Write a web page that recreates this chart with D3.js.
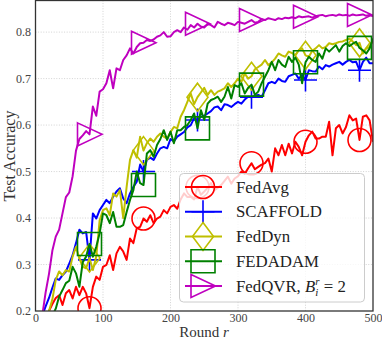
<!DOCTYPE html>
<html>
<head>
<meta charset="utf-8">
<script src="https://cdn.jsdelivr.net/npm/d3@7"></script>
<style>
  body { margin: 0; background: #fff; }
  svg { display: block; font-family: "Liberation Serif", "DejaVu Serif", serif; }
</style>
</head>
<body>
<svg id="chart" width="382" height="339"></svg>
<script>
// rounds are sampled every 5 rounds, 0..500
var rounds = d3.range(0, 505, 5);
var markRounds = [80, 160, 240, 320, 400, 480];

var fedAvg = [
  0.10, 0.13, 0.16, 0.18, 0.20, 0.215, 0.228, 0.234, 0.213, 0.238,
  0.245, 0.227, 0.252, 0.234, 0.252, 0.238, 0.206, 0.252, 0.274, 0.267,
  0.295, 0.299, 0.32, 0.288, 0.324, 0.338, 0.328, 0.31, 0.356, 0.346,
  0.378, 0.381, 0.399, 0.392, 0.406, 0.389, 0.399, 0.403, 0.417, 0.41,
  0.424, 0.428, 0.42, 0.44, 0.453, 0.445, 0.446, 0.44, 0.467, 0.45,
  0.457, 0.465, 0.475, 0.46, 0.465, 0.471, 0.48, 0.489, 0.474, 0.485,
  0.49, 0.5, 0.495, 0.507, 0.518, 0.505, 0.51, 0.515, 0.518, 0.528,
  0.5, 0.55, 0.535, 0.557, 0.535, 0.56, 0.539, 0.564, 0.553, 0.535,
  0.564, 0.578, 0.586, 0.571, 0.571, 0.575, 0.575, 0.607, 0.535, 0.593,
  0.60, 0.582, 0.596, 0.621, 0.61, 0.614, 0.568, 0.618, 0.621, 0.61,
  0.564
];
var scaffold = [
  0.10, 0.14, 0.19, 0.21, 0.228, 0.25, 0.27, 0.267, 0.277, 0.285,
  0.302, 0.32, 0.346, 0.375, 0.367, 0.37, 0.31, 0.41, 0.399, 0.417,
  0.428, 0.439, 0.432, 0.446, 0.457, 0.464, 0.442, 0.432, 0.453, 0.467,
  0.478, 0.515, 0.50, 0.525, 0.53, 0.525, 0.539, 0.55, 0.553, 0.55,
  0.57, 0.565, 0.575, 0.58, 0.585, 0.595, 0.60, 0.615, 0.611, 0.618,
  0.62, 0.625, 0.63, 0.638, 0.64, 0.632, 0.645, 0.643, 0.639, 0.645,
  0.65, 0.646, 0.655, 0.661, 0.66, 0.663, 0.665, 0.661, 0.675, 0.69,
  0.693, 0.69, 0.70, 0.695, 0.693, 0.705, 0.708, 0.711, 0.70, 0.708,
  0.697, 0.718, 0.716, 0.715, 0.726, 0.72, 0.729, 0.726, 0.73, 0.733,
  0.736, 0.73, 0.736, 0.74, 0.735, 0.736, 0.718, 0.736, 0.745, 0.733,
  0.733
];
var fedDyn = [
  0.10, 0.13, 0.16, 0.185, 0.20, 0.225, 0.267, 0.285, 0.277, 0.288,
  0.285, 0.317, 0.338, 0.313, 0.295, 0.292, 0.314, 0.288, 0.317, 0.395,
  0.417, 0.421, 0.406, 0.453, 0.446, 0.46, 0.40, 0.467, 0.525, 0.546,
  0.53, 0.575, 0.545, 0.561, 0.571, 0.564, 0.575, 0.582, 0.575, 0.571,
  0.585, 0.596, 0.593, 0.618, 0.632, 0.65, 0.668, 0.645, 0.66, 0.67,
  0.68, 0.665, 0.675, 0.665, 0.672, 0.675, 0.679, 0.69, 0.682, 0.69,
  0.70, 0.693, 0.711, 0.70, 0.705, 0.72, 0.725, 0.73, 0.74, 0.729,
  0.735, 0.743, 0.754, 0.75, 0.747, 0.758, 0.755, 0.75, 0.761, 0.765,
  0.75, 0.747, 0.76, 0.765, 0.772, 0.765, 0.768, 0.776, 0.774, 0.776,
  0.779, 0.78, 0.783, 0.786, 0.78, 0.772, 0.777, 0.754, 0.765, 0.768,
  0.783
];
var fedAdam = [
  0.10, 0.12, 0.14, 0.16, 0.175, 0.19, 0.205, 0.231, 0.245, 0.26,
  0.265, 0.295, 0.281, 0.252, 0.305, 0.317, 0.344, 0.317, 0.338, 0.367,
  0.41, 0.406, 0.389, 0.413, 0.381, 0.381, 0.385, 0.413, 0.439, 0.46,
  0.50, 0.475, 0.471, 0.539, 0.546, 0.532, 0.557, 0.57, 0.589, 0.568,
  0.586, 0.561, 0.589, 0.589, 0.596, 0.60, 0.611, 0.625, 0.593, 0.632,
  0.611, 0.646, 0.654, 0.657, 0.661, 0.65, 0.661, 0.682, 0.657, 0.686,
  0.682, 0.69, 0.668, 0.68, 0.687, 0.665, 0.672, 0.69, 0.704, 0.718,
  0.736, 0.718, 0.74, 0.73, 0.725, 0.747, 0.736, 0.745, 0.73, 0.69,
  0.735, 0.747, 0.74, 0.736, 0.754, 0.743, 0.765, 0.758, 0.765, 0.772,
  0.758, 0.77, 0.776, 0.77, 0.775, 0.779, 0.766, 0.761, 0.754, 0.765,
  0.786
];
var fedQvr = [
  0.10, 0.14, 0.19, 0.24, 0.28, 0.33, 0.36, 0.375, 0.41, 0.445,
  0.455, 0.49, 0.545, 0.57, 0.578, 0.587, 0.58, 0.64, 0.62, 0.672,
  0.677, 0.69, 0.718, 0.679, 0.722, 0.718, 0.74, 0.75, 0.765, 0.754,
  0.768, 0.776, 0.777, 0.783, 0.781, 0.784, 0.79, 0.793, 0.80, 0.79,
  0.791, 0.80, 0.804, 0.80, 0.81, 0.805, 0.815, 0.81, 0.818, 0.812,
  0.81, 0.818, 0.815, 0.81, 0.822, 0.818, 0.815, 0.82, 0.818, 0.815,
  0.822, 0.82, 0.818, 0.822, 0.826, 0.82, 0.822, 0.828, 0.826, 0.83,
  0.828, 0.826, 0.83, 0.828, 0.831, 0.83, 0.832, 0.83, 0.834, 0.832,
  0.833, 0.834, 0.831, 0.834, 0.836, 0.837, 0.834, 0.836, 0.837, 0.835,
  0.838, 0.836, 0.837, 0.835, 0.838, 0.836, 0.837, 0.838, 0.835, 0.837,
  0.834
];

var xTicks = [0, 100, 200, 300, 400, 500];
var yTicks = [0.2, 0.3, 0.4, 0.5, 0.6, 0.7, 0.8];

var series = [
  {name: 'FedAvg', values: fedAvg, color: '#ff0000', marker: 'circle'},
  {name: 'SCAFFOLD', values: scaffold, color: '#0000ff', marker: 'plus'},
  {name: 'FedDyn', values: fedDyn, color: '#bfbf00', marker: 'diamond'},
  {name: 'FEDADAM', values: fedAdam, color: '#008000', marker: 'square'},
  {name: 'FedQVR', values: fedQvr, color: '#bf00bf', marker: 'triangle'}
];

var plotL = 35.5, plotR = 373, plotT = 0.5, plotB = 311;

var svg = d3.select('#chart');
var x = d3.scaleLinear().domain([0, 500]).range([plotL, plotR]);
var y = d3.scaleLinear().domain([0.2, 0.868]).range([plotB, plotT]);

svg.append('defs').append('clipPath').attr('id', 'plot-clip')
  .append('rect')
  .attr('x', plotL).attr('y', plotT)
  .attr('width', plotR - plotL).attr('height', plotB - plotT);

// grid
var grid = svg.append('g').attr('class', 'grid');
grid.selectAll('line.gx').data(xTicks.slice(1, -1)).enter().append('line')
  .attr('x1', function(d) { return x(d); })
  .attr('x2', function(d) { return x(d); })
  .attr('y1', plotT).attr('y2', plotB);
grid.selectAll('line.gy').data(yTicks.slice(1)).enter().append('line')
  .attr('x1', plotL).attr('x2', plotR)
  .attr('y1', function(d) { return y(d); })
  .attr('y2', function(d) { return y(d); });
grid.selectAll('line')
  .attr('stroke', '#c8c8c8')
  .attr('stroke-width', 0.8)
  .attr('stroke-dasharray', '1,1.6');

// marker shapes, size is in px
function markerPath(kind) {
  var p = d3.path();
  if (kind === 'circle') {
    p.moveTo(11.5, 0);
    p.arc(0, 0, 11.5, 0, 2 * Math.PI);
  } else if (kind === 'plus') {
    p.moveTo(-11.5, 0); p.lineTo(11.5, 0);
    p.moveTo(0, -11.5); p.lineTo(0, 11.5);
  } else if (kind === 'diamond') {
    p.moveTo(0, -14); p.lineTo(10.5, 0); p.lineTo(0, 14); p.lineTo(-10.5, 0); p.closePath();
  } else if (kind === 'square') {
    p.rect(-12, -11.5, 24, 23);
  } else if (kind === 'triangle') {
    p.moveTo(-12, -11.5); p.lineTo(12.5, 0); p.lineTo(-12, 11.5); p.closePath();
  }
  return p.toString();
}

var line = d3.line()
  .x(function(d, i) { return x(rounds[i]); })
  .y(function(d) { return y(d); });

var plot = svg.append('g').attr('clip-path', 'url(#plot-clip)');

series.forEach(function(s) {
  var g = plot.append('g').attr('class', 'series');
  g.append('path')
    .attr('d', line(s.values))
    .attr('fill', 'none')
    .attr('stroke', s.color)
    .attr('stroke-width', 2)
    .attr('stroke-linejoin', 'round');
  g.selectAll('path.mark')
    .data(markRounds)
    .enter().append('path')
    .attr('class', 'mark')
    .attr('d', markerPath(s.marker))
    .attr('transform', function(r) {
      return 'translate(' + x(r) + ',' + y(s.values[rounds.indexOf(r)]) + ')';
    })
    .attr('fill', 'none')
    .attr('stroke', s.color)
    .attr('stroke-width', 1.6);
});

// frame
svg.append('rect')
  .attr('x', plotL).attr('y', plotT)
  .attr('width', plotR - plotL).attr('height', plotB - plotT)
  .attr('fill', 'none')
  .attr('stroke', '#333')
  .attr('stroke-width', 1.3);

// axes (labels only)
var xAxis = svg.append('g')
  .attr('transform', 'translate(0,' + plotB + ')')
  .call(d3.axisBottom(x).tickValues(xTicks).tickSize(0).tickPadding(2));
var yAxis = svg.append('g')
  .attr('transform', 'translate(' + plotL + ',0)')
  .call(d3.axisLeft(y).tickValues(yTicks).tickSize(0).tickPadding(4.5)
    .tickFormat(d3.format('.1f')));
[xAxis, yAxis].forEach(function(a) {
  a.select('.domain').remove();
  a.selectAll('text')
    .attr('font-family', '"Liberation Serif", serif')
    .attr('font-size', 12)
    .attr('fill', '#444');
});

svg.append('text')
  .attr('transform', 'translate(15,156) rotate(-90)')
  .attr('text-anchor', 'middle')
  .attr('font-size', 16)
  .attr('fill', '#333')
  .text('Test Accuracy');

var xl = svg.append('text')
  .attr('x', 204).attr('y', 336.5)
  .attr('text-anchor', 'middle')
  .attr('font-size', 15)
  .attr('fill', '#333');
xl.append('tspan').text('Round ');
xl.append('tspan').attr('font-style', 'italic').text('r');

// legend
var legend = svg.append('g').attr('class', 'legend');
legend.append('rect')
  .attr('x', 179.5).attr('y', 173.5)
  .attr('width', 185).attr('height', 128.5)
  .attr('rx', 4)
  .attr('fill', '#fff')
  .attr('fill-opacity', 0.8)
  .attr('stroke', '#cccccc')
  .attr('stroke-width', 1);

var rowY = d3.scaleLinear().domain([0, 4]).range([187, 286]);
series.forEach(function(s, i) {
  var row = legend.append('g').attr('transform', 'translate(0,' + rowY(i) + ')');
  row.append('line')
    .attr('x1', 185).attr('x2', 222)
    .attr('y1', 0).attr('y2', 0)
    .attr('stroke', s.color)
    .attr('stroke-width', 2);
  row.append('path')
    .attr('d', markerPath(s.marker))
    .attr('transform', 'translate(203,0)')
    .attr('fill', 'none')
    .attr('stroke', s.color)
    .attr('stroke-width', 1.6);
  var t = row.append('text')
    .attr('x', 236).attr('y', 5.5)
    .attr('font-size', 16.8)
    .attr('fill', '#222');
  if (s.name === 'FedQVR') {
    t.append('tspan').text('FedQVR, ');
    t.append('tspan').attr('font-style', 'italic').text('B');
    t.append('tspan').attr('font-style', 'italic').attr('font-size', 11)
      .attr('dy', 4).text('i');
    t.append('tspan').attr('font-style', 'italic').attr('font-size', 11)
      .attr('dx', -3).attr('dy', -10.5).text('r');
    t.append('tspan').attr('dy', 6.5).text(' = 2');
  } else {
    t.text(s.name);
  }
});
</script>
</body>
</html>
